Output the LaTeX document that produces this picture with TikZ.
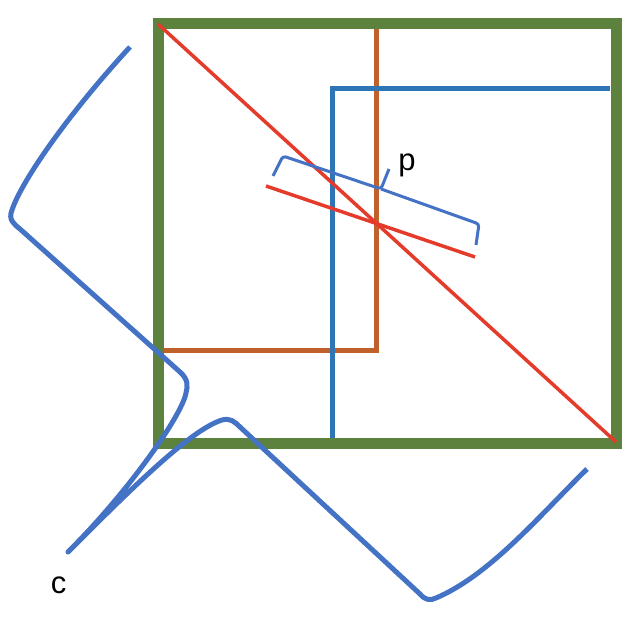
\documentclass[tikz,border=0pt]{standalone}
\usepackage{fontspec}
\setmainfont{Liberation Sans}
\usetikzlibrary{positioning}

\definecolor{verde}{HTML}{5D823E}
\definecolor{marrone}{HTML}{C0602A}
\definecolor{rosso}{HTML}{E53B2B}
\definecolor{blu}{HTML}{2E75B6}
\definecolor{azzurro}{HTML}{4472C4}

\begin{document}
\begin{tikzpicture}[
  x=1pt, y=-1pt,
  font=\fontsize{31}{36}\selectfont,
  cornice/.style={draw=verde, line width=11pt, line join=miter},
  quadro/.style={draw=marrone, line width=5.5pt},
  riquadro/.style={draw=blu, line width=5pt},
  retta/.style={draw=rosso, line width=3.5pt},
  curva/.style={draw=azzurro, line width=5pt, line join=round},
  graffa/.style={draw=azzurro, line width=3pt, rounded corners=3pt},
  etichetta/.style={inner sep=0pt}
]
\useasboundingbox (0,0) rectangle (632,644);

% ---- quadrati -------------------------------------------------------
\draw[quadro] (376.5,29) -- (376.5,350.5) -- (163,350.5);
\draw[riquadro] (332.5,438) -- (332.5,89) -- (610,89);
\draw[cornice] (158,23.5) rectangle (616,443.5);

% ---- rette rosse ------------------------------------------------------
\draw[retta] (158,24) -- (616,442);
\draw[retta] (266,186) -- (475,257);

% ---- graffa e etichetta p ---------------------------------------------
\draw[graffa] (273,176) -- (283,156) -- (381,189) -- (389,169);
\draw[graffa] (381,189) -- (479,224) -- (476,245);
\node[etichetta] (p) at (407,165) {p};

% ---- curva c ----------------------------------------------------------
\draw[curva] (130,47) .. controls (70,112) and (22,180) .. (12,210)
  .. controls (8,220) and (14,224) .. (20,229)
  -- (180,372) .. controls (188,379) and (188,386) .. (186,393)
  .. controls (182,415) and (130,490) .. (68,552)
  .. controls (130,490) and (190,430) .. (222,420)
  .. controls (230,418) and (234,421) .. (240,427)
  -- (420,594) .. controls (425,600) and (430,601) .. (436,598)
  .. controls (490,575) and (540,515) .. (587,469);
\node[etichetta] (c) at (58.5,585.5) {c};

\end{tikzpicture}
\end{document}
